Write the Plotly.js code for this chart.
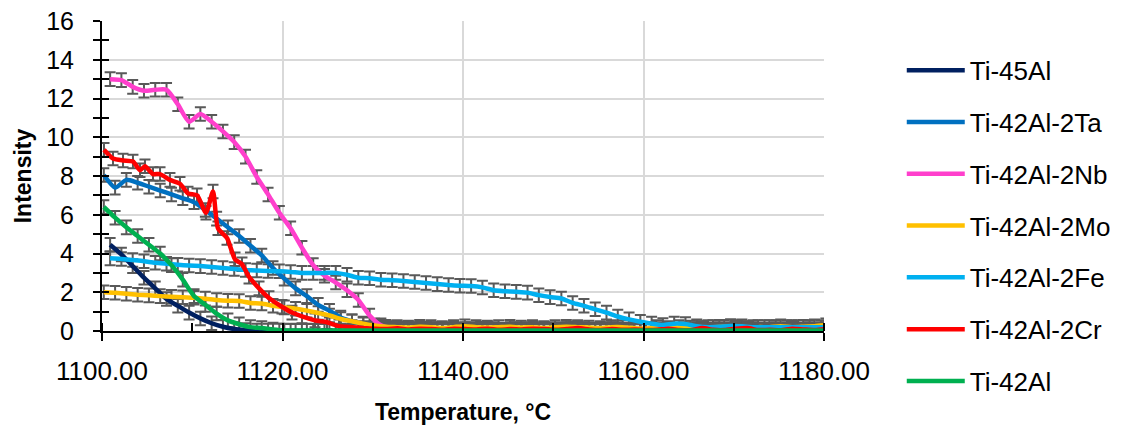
<!DOCTYPE html>
<html>
<head>
<meta charset="utf-8">
<script src="https://cdn.plot.ly/plotly-3.0.1.min.js"></script>
<style>
  html, body { margin: 0; padding: 0; background: #fff; }
  #chart { width: 1123px; height: 425px; }
</style>
</head>
<body>
<div id="chart"></div>
<script>
// Temperature grids (°C)
const TEMP_A = [
  1100.2, 1101.45, 1102.7, 1103.95, 1105.2, 1106.45, 1107.7, 1108.95, 1110.2, 1111.45,
  1112.7, 1113.95, 1115.2, 1116.45, 1117.7, 1118.95, 1120.2, 1121.45, 1122.7, 1123.95,
  1125.2, 1126.45, 1127.7, 1128.95, 1130.2, 1131.45, 1132.7, 1133.95, 1135.2, 1136.45,
  1137.7, 1138.95, 1140.2, 1141.45, 1142.7, 1143.95, 1145.2, 1146.45, 1147.7, 1148.95,
  1150.2, 1151.45, 1152.7, 1153.95, 1155.2, 1156.45, 1157.7, 1158.95, 1160.2, 1161.45,
  1162.7, 1163.95, 1165.2, 1166.45, 1167.7, 1168.95, 1170.2, 1171.45, 1172.7, 1173.95,
  1175.2, 1176.45, 1177.7, 1178.95, 1180.2
];
const TEMP_B = [
  1100.9, 1102.15, 1103.4, 1104.65, 1105.9, 1107.15, 1108.4, 1109.65, 1110.9, 1112.15,
  1113.4, 1114.65, 1115.9, 1117.15, 1118.4, 1119.65, 1120.9, 1122.15, 1123.4, 1124.65,
  1125.9, 1127.15, 1128.4, 1129.65, 1130.9, 1132.15, 1133.4, 1134.65, 1135.9, 1137.15,
  1138.4, 1139.65, 1140.9, 1142.15, 1143.4, 1144.65, 1145.9, 1147.15, 1148.4, 1149.65,
  1150.9, 1152.15, 1153.4, 1154.65, 1155.9, 1157.15, 1158.4, 1159.65, 1160.9, 1162.15,
  1163.4, 1164.65, 1165.9, 1167.15, 1168.4, 1169.65, 1170.9, 1172.15, 1173.4, 1174.65,
  1175.9, 1177.15, 1178.4, 1179.65, 1180.9
];
const TEMP_CR = [
  1100.22, 1101.22, 1102.33, 1103.43, 1104.21, 1104.76, 1105.65, 1106.43, 1107.53, 1108.64,
  1109.53, 1110.53, 1111.52, 1112.3, 1112.85, 1113.85, 1114.74, 1115.51, 1116.29, 1117.4,
  1118.5, 1119.94, 1121.05, 1122.16, 1123.6, 1124.93, 1126.26, 1127.7,
  1129, 1130.25, 1131.5, 1132.75, 1134, 1135.25, 1136.5, 1137.75, 1139, 1140.25,
  1141.5, 1142.75, 1144, 1145.25, 1146.5, 1147.75, 1149, 1150.25, 1151.5, 1152.75,
  1154, 1155.25, 1156.5, 1157.75, 1159, 1160.25, 1161.5, 1162.75, 1164, 1165.25,
  1166.5, 1167.75, 1169, 1170.25, 1171.5, 1172.75, 1174, 1175.25, 1176.5, 1177.75,
  1179, 1180.25
];

// Intensity of each alloy
const TI45AL = [
  4.45, 3.95, 3.35, 2.75, 2.2, 1.65, 1.3, 0.95, 0.65, 0.4,
  0.22, 0.1, 0.05, 0.03, 0.02, 0.02, 0.01, 0.01, 0.01, 0.01,
  0.01, 0, 0, 0, 0, 0, 0, 0, 0, 0,
  0, 0, 0, 0, 0, 0, 0, 0, 0, 0,
  0, 0, 0, 0, 0, 0, 0, 0, 0, 0,
  0, 0, 0, 0, 0, 0, 0, 0, 0, 0,
  0, 0, 0, 0, 0
];
const TI42AL_2TA = [
  8.05, 7.4, 7.8, 7.65, 7.45, 7.25, 7.05, 6.85, 6.65, 6.25,
  5.8, 5.35, 4.9, 4.4, 3.9, 3.25, 2.7, 2.2, 1.8, 1.35,
  1.05, 0.7, 0.5, 0.35, 0.22, 0.15, 0.12, 0.1, 0.1, 0.08,
  0.08, 0.07, 0.07, 0.06, 0.06, 0.05, 0.05, 0.05, 0.05, 0.04,
  0.04, 0.04, 0.04, 0.04, 0.04, 0.04, 0.04, 0.04, 0.04, 0.04,
  0.04, 0.03, 0.03, 0.03, 0.03, 0.03, 0.03, 0.03, 0.03, 0.03,
  0.03, 0.03, 0.03, 0.03, 0.03
];
const TI42AL_2NB = [
  13.0, 12.95, 12.6, 12.4, 12.45, 12.45, 11.7, 10.8, 11.2, 10.8,
  10.3, 9.75, 9.0, 7.95, 7.05, 6.1, 5.3, 4.3, 3.4, 2.85,
  2.5, 2.1, 1.6, 0.8, 0.3, 0.15, 0.12, 0.1, 0.12, 0.1,
  0.1, 0.08, 0.1, 0.12, 0.1, 0.08, 0.1, 0.1, 0.08, 0.1,
  0.1, 0.12, 0.1, 0.08, 0.1, 0.1, 0.08, 0.1, 0.12, 0.1,
  0.08, 0.1, 0.1, 0.08, 0.1, 0.1, 0.12, 0.1, 0.08, 0.1,
  0.1, 0.08, 0.1, 0.1, 0.1
];
const TI42AL_2MO = [
  2.0, 1.97, 1.92, 1.87, 1.84, 1.8, 1.77, 1.74, 1.72, 1.67,
  1.6, 1.56, 1.55, 1.45, 1.42, 1.3, 1.22, 1.15, 1.05, 0.93,
  0.8, 0.62, 0.5, 0.38, 0.28, 0.22, 0.2, 0.18, 0.22, 0.2,
  0.15, 0.2, 0.25, 0.2, 0.18, 0.2, 0.22, 0.18, 0.2, 0.15,
  0.2, 0.22, 0.2, 0.18, 0.15, 0.2, 0.2, 0.15, 0.12, 0.2,
  0.15, 0.2, 0.18, 0.15, 0.2, 0.22, 0.2, 0.15, 0.2, 0.2,
  0.25, 0.2, 0.22, 0.25, 0.3
];
const TI42AL_2FE = [
  3.75, 3.72, 3.66, 3.6, 3.52, 3.47, 3.42, 3.38, 3.35, 3.3,
  3.25, 3.2, 3.15, 3.12, 3.1, 3.08, 3.05, 3.0, 3.0, 3.0,
  3.0, 2.9, 2.75, 2.72, 2.65, 2.62, 2.58, 2.53, 2.48, 2.42,
  2.37, 2.34, 2.32, 2.25, 2.1, 2.05, 2.02, 1.98, 1.85, 1.75,
  1.68, 1.45, 1.3, 1.12, 0.95, 0.75, 0.6, 0.48, 0.38, 0.31,
  0.38, 0.36, 0.25, 0.2, 0.22, 0.26, 0.24, 0.2, 0.2, 0.2,
  0.2, 0.2, 0.2, 0.2, 0.2
];
const TI42AL_2CR = [
  9.35, 8.9, 8.8, 8.75, 8.3, 8.5, 8.1, 8.1, 7.8, 7.6,
  7.1, 7.0, 6.1, 7.2, 5.3, 4.8, 3.7, 3.45, 2.8, 2.2,
  1.7, 1.25, 0.95, 0.75, 0.55, 0.45, 0.25, 0.2,
  0.15, 0.12, 0.1, 0.14, 0.08, 0.12, 0.1, 0.06, 0.12, 0.1,
  0.08, 0.12, 0.06, 0.1, 0.08, 0.12, 0.1, 0.06, 0.1, 0.15,
  0.08, 0.05, 0.1, 0.06, 0.08, 0.05, 0.06, 0.12, 0.05, 0.04,
  0.15, 0.06, 0.05, 0.12, 0.15, 0.05, 0.06, 0.04, 0.12, 0.08,
  0.05, 0.1
];
const TI42AL = [
  6.4, 5.85, 5.35, 4.9, 4.45, 4.0, 3.4, 2.65, 1.8, 1.35,
  0.9, 0.55, 0.35, 0.2, 0.15, 0.08, 0.03, 0.02, 0.02, 0.02,
  0.02, 0.02, 0.02, 0.02, 0.02, 0.02, 0.02, 0.02, 0.02, 0.02,
  0.02, 0.02, 0.02, 0.02, 0.02, 0.02, 0.02, 0.02, 0.02, 0.02,
  0.02, 0.02, 0.02, 0.02, 0.02, 0.02, 0.02, 0.02, 0.02, 0.02,
  0.02, 0.02, 0.02, 0.02, 0.02, 0.02, 0.02, 0.02, 0.02, 0.02,
  0.02, 0.02, 0.02, 0.02, 0.02
];

const SERIES_NAMES = ['Ti-45Al', 'Ti-42Al-2Ta', 'Ti-42Al-2Nb', 'Ti-42Al-2Mo', 'Ti-42Al-2Fe', 'Ti-42Al-2Cr', 'Ti-42Al'];
const ERROR_HALF = 0.35;

const series = [
  { name: SERIES_NAMES[0], x: TEMP_B,  y: TI45AL,     color: '#002060' },
  { name: SERIES_NAMES[1], x: TEMP_A,  y: TI42AL_2TA, color: '#0070C0' },
  { name: SERIES_NAMES[2], x: TEMP_B,  y: TI42AL_2NB, color: '#FF3FCC' },
  { name: SERIES_NAMES[3], x: TEMP_A,  y: TI42AL_2MO, color: '#FFC000' },
  { name: SERIES_NAMES[4], x: TEMP_B,  y: TI42AL_2FE, color: '#00B0F0' },
  { name: SERIES_NAMES[5], x: TEMP_CR, y: TI42AL_2CR, color: '#FF0000' },
  { name: SERIES_NAMES[6], x: TEMP_A,  y: TI42AL,     color: '#00B050' }
];

const traces = [];
// error bars underneath the curves
series.forEach(s => {
  traces.push({
    type: 'scatter', mode: 'markers', x: s.x, y: s.y,
    marker: { size: 1, color: 'rgba(0,0,0,0)' },
    error_y: { type: 'constant', value: ERROR_HALF, color: '#595959', thickness: 2, width: 5.5 },
    showlegend: false, hoverinfo: 'skip', legendgroup: 'bars'
  });
});
// smoothed curves
series.forEach(s => {
  traces.push({
    type: 'scatter', mode: 'lines', name: s.name, x: s.x, y: s.y,
    line: { color: s.color, width: 4.5, shape: 'spline', smoothing: 0.6 },
    legendgroup: s.name
  });
});
// helper trace for the inner half of the crossing tick marks
traces.push({
  type: 'scatter', mode: 'markers', x: [1100], y: [0], xaxis: 'x2', yaxis: 'y2',
  marker: { size: 1, color: 'rgba(0,0,0,0)' }, showlegend: false, hoverinfo: 'skip', legendgroup: 'bars'
});

const FONT = '"Liberation Sans", Arial, sans-serif';

const layout = {
  width: 1123, height: 425,
  margin: { l: 102, r: 299, t: 21, b: 94 },
  paper_bgcolor: '#ffffff', plot_bgcolor: '#ffffff',
  font: { family: FONT, color: '#000000' },
  showlegend: true,
  xaxis: {
    range: [1100, 1180], tickmode: 'linear', tick0: 1100, dtick: 20, tickformat: '.2f',
    showline: true, linecolor: '#000000', linewidth: 2,
    ticks: 'outside', ticklen: 8, tickwidth: 2, tickcolor: '#000000',
    minor: { dtick: 10, ticks: 'inside', ticklen: 8, tickwidth: 2, tickcolor: '#000000', showgrid: false },
    showgrid: true, gridcolor: '#D9D9D9', gridwidth: 2, zeroline: false,
    tickfont: { size: 26, family: FONT, color: '#000000' },
    ticklabelstandoff: 8,
    title: { text: '<b>Temperature, °C</b>', font: { size: 23, family: FONT, color: '#000000' }, standoff: 21 },
    automargin: false, fixedrange: true
  },
  yaxis: {
    range: [0, 16], tickmode: 'linear', tick0: 0, dtick: 2,
    showline: true, linecolor: '#000000', linewidth: 2,
    ticks: 'outside', ticklen: 7, tickwidth: 2, tickcolor: '#000000',
    minor: { dtick: 1, ticks: 'outside', ticklen: 7, tickwidth: 2, tickcolor: '#000000', showgrid: false },
    showgrid: true, gridcolor: '#D9D9D9', gridwidth: 2, zeroline: false,
    tickfont: { size: 25, family: FONT, color: '#000000' },
    ticklabelstandoff: 14,
    title: { text: '<b>Intensity</b>', font: { size: 23, family: FONT, color: '#000000' }, standoff: 8 },
    automargin: false, fixedrange: true
  },
  xaxis2: {
    overlaying: 'x', anchor: 'y2', range: [1100, 1180], tickmode: 'linear', tick0: 1100, dtick: 20,
    ticks: 'inside', ticklen: 8, tickwidth: 2, tickcolor: '#000000',
    showticklabels: false, showgrid: false, zeroline: false, showline: false, fixedrange: true
  },
  yaxis2: {
    overlaying: 'y', anchor: 'x2', side: 'left', range: [0, 16], tickmode: 'linear', tick0: 0, dtick: 1,
    ticks: 'inside', ticklen: 7, tickwidth: 2, tickcolor: '#000000',
    showticklabels: false, showgrid: false, zeroline: false, showline: false, fixedrange: true
  },
  legend: {
    xref: 'container', yref: 'container', x: 0.803, y: 0.89, xanchor: 'left', yanchor: 'top',
    font: { size: 26, family: FONT, color: '#000000' },
    itemwidth: 58, tracegroupgap: 15, traceorder: 'grouped', maxheight: 420,
    bgcolor: 'rgba(0,0,0,0)', borderwidth: 0
  }
};

Plotly.newPlot('chart', traces, layout, { staticPlot: true, displayModeBar: false });
</script>
</body>
</html>
